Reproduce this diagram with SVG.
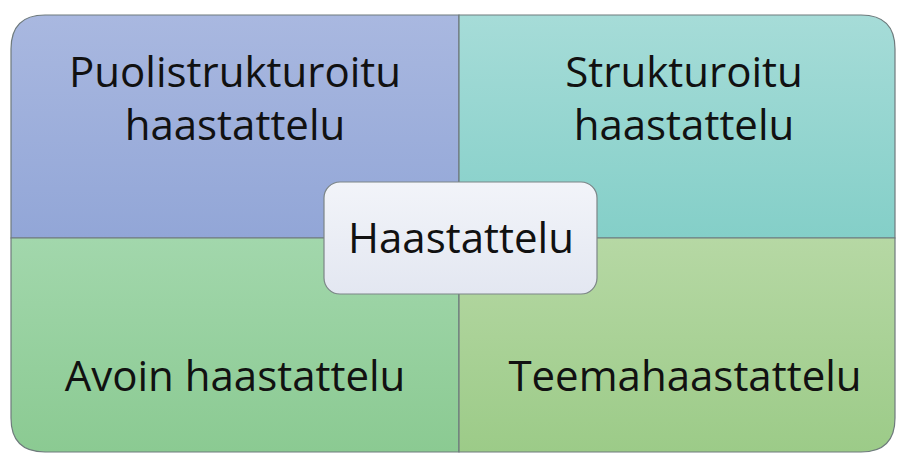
<svg xmlns="http://www.w3.org/2000/svg" width="897" height="453" viewBox="0 0 897 453">
  <defs>
    <linearGradient id="gBlue" x1="0" y1="0" x2="0" y2="1">
      <stop offset="0" stop-color="#a9b8e0"/>
      <stop offset="1" stop-color="#92a6d7"/>
    </linearGradient>
    <linearGradient id="gTeal" x1="0" y1="0" x2="0" y2="1">
      <stop offset="0" stop-color="#a6dcd8"/>
      <stop offset="1" stop-color="#84cfc8"/>
    </linearGradient>
    <linearGradient id="gGreen" x1="0" y1="0" x2="0" y2="1">
      <stop offset="0" stop-color="#a2d7ac"/>
      <stop offset="1" stop-color="#8bca92"/>
    </linearGradient>
    <linearGradient id="gOlive" x1="0" y1="0" x2="0" y2="1">
      <stop offset="0" stop-color="#b6d8a4"/>
      <stop offset="1" stop-color="#9ccb88"/>
    </linearGradient>
    <linearGradient id="gCenter" x1="0" y1="0" x2="0" y2="1">
      <stop offset="0" stop-color="#f2f4f9"/>
      <stop offset="1" stop-color="#e3e7f1"/>
    </linearGradient>
  </defs>
  <style>
    .quad { stroke: #6e7a7c; stroke-width: 1.2; }
    .lbl { font-family: "Open Sans", "Liberation Sans", sans-serif; font-size: 42px; fill: #111111; text-anchor: middle; }
  </style>

  <g id="q-puolistrukturoitu">
    <path class="quad" fill="url(#gBlue)" d="M11,238 V49 Q11,15 45,15 H459 V238 Z"/>
    <text class="lbl" x="235" y="87">Puolistrukturoitu</text>
    <text class="lbl" x="235" y="140">haastattelu</text>
  </g>
  <g id="q-strukturoitu">
    <path class="quad" fill="url(#gTeal)" d="M459,15 H861 Q895,15 895,49 V238 H459 Z"/>
    <text class="lbl" x="684" y="87">Strukturoitu</text>
    <text class="lbl" x="684" y="140">haastattelu</text>
  </g>
  <g id="q-avoin">
    <path class="quad" fill="url(#gGreen)" d="M11,238 H459 V452 H45 Q11,452 11,418 Z"/>
    <text class="lbl" x="235" y="391">Avoin haastattelu</text>
  </g>
  <g id="q-teema">
    <path class="quad" fill="url(#gOlive)" d="M459,238 H895 V418 Q895,452 861,452 H459 Z"/>
    <text class="lbl" x="685" y="391">Teemahaastattelu</text>
  </g>
  <g id="center-haastattelu">
    <rect x="324" y="182" width="273" height="112" rx="16" fill="url(#gCenter)" stroke="#7c8587" stroke-width="1.2"/>
    <text class="lbl" x="461" y="253">Haastattelu</text>
  </g>
</svg>
